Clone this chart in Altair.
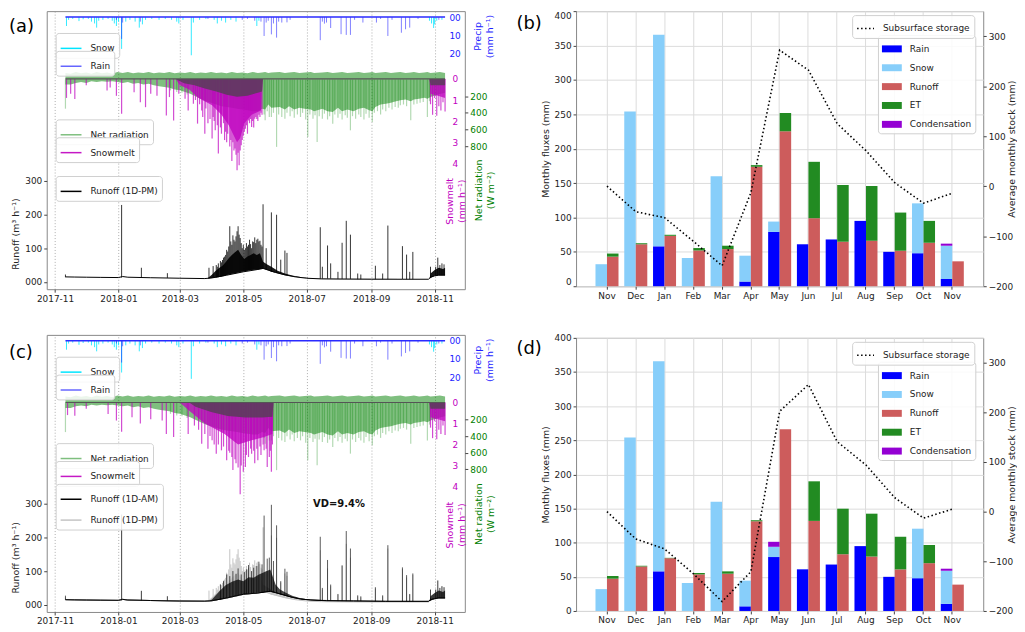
import altair as alt
import pandas as pd

FONT = "DejaVu Sans"
MAG = "#bf00bf"

# ------------------------------------------------------------------ monthly balance (b), (d)
MONTH_KEYS = ["Nov17", "Dec17", "Jan18", "Feb18", "Mar18", "Apr18", "May18",
              "Jun18", "Jul18", "Aug18", "Sep18", "Oct18", "Nov18"]
RAIN_M = [0, 0, 58, 0, 0, 6.8, 79, 61, 68, 95, 50, 48, 10.5]
SNOW_M = [32, 254, 307.7, 41, 160, 37.6, 15, 0, 0, 0, 0, 72.5, 48.4]
COND_B = [0, 0, 0, 0, 0, 0, 0, 0, 0, 0, 0, 0, 3]
RUNOFF_B = [43, 61, 73.3, 52, 54, 173.7, 225.3, 98.9, 64.7, 66.1, 51.6, 63.2, 36.2]
ET_B = [4.5, 1.5, 1.5, 3.5, 4.9, 2.4, 26.6, 82, 82.5, 79.6, 55.5, 31.8, 0]
STORAGE_B = [0, -51, -63, -110, -159, -13, 272, 232, 125, 71, 7, -34, -14]
COND_D = [0, 0, 0, 0, 0, 0, 7.3, 0, 0, 0, 0, 0, 3]
RUNOFF_D = [47.3, 65.2, 77.3, 53.6, 54.6, 131.4, 266.2, 131.9, 83.1, 79.7, 60.9, 70, 38.6]
ET_D = [3.9, 1.0, 0.5, 2.0, 3.4, 1.5, 0, 58, 66.7, 62.8, 47.8, 26.6, 0]
STORAGE_D = [0, -55, -75, -125, -181, -121, 202, 256, 141, 94, 28, -13, 5]
FLUX_NAMES = ["Rain", "Snow", "Runoff", "ET", "Condensation"]
FLUX_COLORS = ["#0000ff", "#87cefa", "#cd5c5c", "#228b22", "#9400d3"]

# ------------------------------------------------------------------ time series (a), (c)
SERIES_SPAN = ("2017-11-11", "2018-11-11")
SNOW = [("2017-11-12", 4.9), ("2017-11-14", 1.5), ("2017-11-18", 1.0), ("2017-11-24", 2.2),
        ("2017-11-28", 1.2), ("2017-12-03", 1.0), ("2017-12-06", 2.5), ("2017-12-09", 3.5),
        ("2017-12-11", 5.8), ("2017-12-13", 2.0), ("2017-12-17", 1.5), ("2017-12-22", 1.0),
        ("2017-12-26", 2.0), ("2017-12-28", 3.5), ("2017-12-30", 4.9), ("2018-01-01", 2.5),
        ("2018-01-04", 17.5), ("2018-01-08", 2.5), ("2018-01-12", 1.5), ("2018-01-17", 2.5),
        ("2018-01-21", 5.8), ("2018-01-24", 4.0), ("2018-01-27", 1.5), ("2018-02-02", 1.0),
        ("2018-02-09", 1.5), ("2018-02-15", 1.0), ("2018-02-21", 1.5), ("2018-02-26", 2.5),
        ("2018-02-28", 3.5), ("2018-03-04", 1.5), ("2018-03-12", 21.0), ("2018-03-14", 3.0),
        ("2018-03-20", 1.5), ("2018-03-26", 1.0), ("2018-04-03", 1.5), ("2018-04-06", 3.5),
        ("2018-04-10", 2.0), ("2018-04-14", 3.0), ("2018-04-19", 1.5), ("2018-04-24", 2.5),
        ("2018-05-14", 4.9), ("2018-05-16", 2.0), ("2018-10-27", 2.0), ("2018-10-29", 3.5),
        ("2018-10-31", 6.0), ("2018-11-01", 4.0), ("2018-11-03", 2.0), ("2018-11-08", 1.5)]
RAIN = [("2017-12-30", 1.5), ("2018-01-04", 12.0), ("2018-01-05", 3.0), ("2018-01-22", 2.5),
        ("2018-03-28", 1.0), ("2018-04-30", 1.5), ("2018-05-05", 1.0), ("2018-05-12", 2.0),
        ("2018-05-18", 2.5), ("2018-05-21", 10.4), ("2018-05-23", 3.0), ("2018-05-25", 2.0),
        ("2018-05-28", 9.5), ("2018-05-30", 3.5), ("2018-06-02", 11.3), ("2018-06-04", 2.5),
        ("2018-06-07", 3.0), ("2018-06-12", 2.9), ("2018-06-15", 1.5), ("2018-07-14", 12.7),
        ("2018-07-16", 2.5), ("2018-07-18", 3.6), ("2018-07-20", 3.0), ("2018-07-24", 6.0),
        ("2018-08-03", 9.4), ("2018-08-08", 9.8), ("2018-08-12", 9.8), ("2018-08-16", 1.5),
        ("2018-08-24", 3.0), ("2018-09-06", 3.0), ("2018-09-10", 1.0), ("2018-09-17", 10.4),
        ("2018-09-21", 1.5), ("2018-09-30", 8.6), ("2018-10-04", 6.7), ("2018-10-08", 5.8),
        ("2018-10-16", 1.0), ("2018-11-05", 1.5)]
# (date, night value, typical daytime maximum) in W m-2
NET_RAD_BAND = [
    ("2017-11-11", -80, 60), ("2017-11-16", -70, 60), ("2017-11-21", -90, 40), ("2017-11-26", -75, 30),
    ("2017-12-01", -85, 40), ("2017-12-06", -70, 20), ("2017-12-11", -90, 30), ("2017-12-16", -75, 20),
    ("2017-12-21", -85, 25), ("2017-12-26", -70, 20), ("2017-12-31", -90, 30), ("2018-01-05", -80, 40),
    ("2018-01-10", -90, 30), ("2018-01-15", -75, 50), ("2018-01-20", -85, 40), ("2018-01-25", -80, 60),
    ("2018-01-30", -90, 50), ("2018-02-04", -75, 70), ("2018-02-09", -85, 80), ("2018-02-14", -80, 90),
    ("2018-02-19", -90, 100), ("2018-02-24", -75, 120), ("2018-03-01", -85, 130), ("2018-03-06", -80, 150),
    ("2018-03-11", -90, 170), ("2018-03-16", -75, 200), ("2018-03-21", -85, 230), ("2018-03-26", -80, 260),
    ("2018-03-31", -90, 280), ("2018-04-05", -80, 300), ("2018-04-10", -85, 320), ("2018-04-15", -75, 330),
    ("2018-04-20", -90, 340), ("2018-04-25", -80, 350), ("2018-04-30", -85, 360), ("2018-05-05", -75, 370),
    ("2018-05-10", -90, 380), ("2018-05-15", -80, 380), ("2018-05-19", -85, 350), ("2018-05-22", -90, 360),
    ("2018-05-25", -80, 300), ("2018-05-28", -85, 340), ("2018-06-05", -90, 330), ("2018-06-10", -80, 360),
    ("2018-06-14", -85, 320), ("2018-06-19", -90, 360), ("2018-06-24", -80, 340), ("2018-06-29", -85, 350),
    ("2018-07-05", -90, 360), ("2018-07-08", -80, 380), ("2018-07-16", -85, 350), ("2018-07-21", -90, 380),
    ("2018-07-26", -80, 390), ("2018-07-31", -85, 340), ("2018-08-04", -90, 380), ("2018-08-09", -80, 360),
    ("2018-08-15", -85, 380), ("2018-08-20", -90, 350), ("2018-08-25", -80, 340), ("2018-08-30", -85, 370),
    ("2018-09-02", -90, 380), ("2018-09-05", -80, 330), ("2018-09-10", -85, 300), ("2018-09-15", -90, 290),
    ("2018-09-20", -80, 280), ("2018-09-24", -85, 265), ("2018-09-29", -90, 250), ("2018-10-04", -80, 240),
    ("2018-10-09", -85, 260), ("2018-10-12", -90, 240), ("2018-10-17", -80, 230), ("2018-10-22", -85, 220),
    ("2018-10-25", -90, 230), ("2018-10-28", -80, 210), ("2018-11-02", -85, 190), ("2018-11-06", -90, 175),
    ("2018-11-11", -80, 160)]
NET_RAD_PEAKS = [
    ("2017-11-11", 350), ("2018-02-20", 130), ("2018-02-26", 150), ("2018-03-03", 160), ("2018-03-08", 180),
    ("2018-05-21", 420), ("2018-05-22", 490), ("2018-05-24", 380), ("2018-05-26", 450), ("2018-05-28", 451),
    ("2018-05-30", 400), ("2018-06-02", 809), ("2018-06-04", 420), ("2018-06-07", 450), ("2018-06-10", 470),
    ("2018-06-12", 400), ("2018-06-15", 440), ("2018-06-17", 380), ("2018-06-19", 460), ("2018-06-22", 420),
    ("2018-06-25", 450), ("2018-06-27", 400), ("2018-06-30", 480), ("2018-07-02", 690), ("2018-07-04", 420),
    ("2018-07-07", 470), ("2018-07-09", 430), ("2018-07-11", 750), ("2018-07-13", 440), ("2018-07-16", 470),
    ("2018-07-18", 410), ("2018-07-21", 480), ("2018-07-23", 440), ("2018-07-26", 530), ("2018-07-28", 420),
    ("2018-07-31", 460), ("2018-08-02", 410), ("2018-08-04", 480), ("2018-08-07", 430), ("2018-08-09", 460),
    ("2018-08-12", 610), ("2018-08-14", 440), ("2018-08-17", 470), ("2018-08-20", 420), ("2018-08-22", 450),
    ("2018-08-25", 480), ("2018-08-27", 410), ("2018-08-30", 460), ("2018-09-02", 510), ("2018-09-04", 400),
    ("2018-09-07", 380), ("2018-09-10", 420), ("2018-09-12", 360), ("2018-09-15", 380), ("2018-09-18", 340),
    ("2018-09-21", 360), ("2018-09-24", 330), ("2018-09-27", 340), ("2018-09-29", 310), ("2018-10-02", 300),
    ("2018-10-05", 320), ("2018-10-09", 490), ("2018-10-12", 300), ("2018-10-15", 290), ("2018-10-18", 280),
    ("2018-10-21", 270), ("2018-10-25", 451), ("2018-10-27", 260)]

MELT_PEAKS_A = [("2017-11-12", 0.9), ("2017-11-16", 0.7), ("2017-11-20", 0.95), ("2017-12-01", 0.3),
                ("2017-12-21", 0.55), ("2017-12-24", 0.4), ("2017-12-30", 0.8), ("2018-01-04", 1.65),
                ("2018-01-16", 0.63), ("2018-01-22", 1.1), ("2018-01-27", 1.34), ("2018-02-01", 0.7),
                ("2018-02-07", 0.8), ("2018-02-16", 1.73), ("2018-02-19", 0.86), ("2018-02-23", 1.97),
                ("2018-02-28", 0.7), ("2018-03-06", 0.94), ("2018-03-09", 1.5), ("2018-03-14", 1.18),
                ("2018-03-16", 1.0), ("2018-03-18", 2.12), ("2018-03-20", 1.2), ("2018-03-22", 1.5),
                ("2018-03-23", 1.8), ("2018-03-25", 2.6), ("2018-03-26", 1.4), ("2018-03-28", 2.1),
                ("2018-03-30", 1.9), ("2018-04-01", 2.83), ("2018-04-02", 1.8), ("2018-04-03", 2.0),
                ("2018-04-04", 2.44), ("2018-04-06", 2.2), ("2018-04-07", 3.54), ("2018-04-09", 2.3),
                ("2018-04-10", 2.6), ("2018-04-12", 2.1), ("2018-04-13", 2.9), ("2018-04-14", 2.5),
                ("2018-04-15", 3.0), ("2018-04-16", 2.6), ("2018-04-18", 3.2), ("2018-04-19", 2.9),
                ("2018-04-20", 3.9), ("2018-04-21", 3.0), ("2018-04-22", 3.4), ("2018-04-23", 3.3),
                ("2018-04-24", 3.6), ("2018-04-25", 4.33), ("2018-04-26", 3.5), ("2018-04-27", 4.1),
                ("2018-04-28", 3.4), ("2018-04-29", 3.15), ("2018-04-30", 2.9), ("2018-05-01", 2.7),
                ("2018-05-02", 2.5), ("2018-05-03", 2.36), ("2018-05-04", 2.2), ("2018-05-05", 2.6),
                ("2018-05-06", 1.97), ("2018-05-07", 2.1), ("2018-05-08", 1.9), ("2018-05-09", 2.28),
                ("2018-05-10", 2.0), ("2018-05-11", 2.3), ("2018-05-12", 1.89), ("2018-05-13", 1.8),
                ("2018-05-14", 1.9), ("2018-05-15", 2.0), ("2018-05-16", 1.7), ("2018-05-17", 1.81),
                ("2018-05-18", 1.6), ("2018-05-19", 1.7),
                ("2018-10-28", 1.2), ("2018-10-30", 1.7), ("2018-11-01", 0.9), ("2018-11-03", 1.75),
                ("2018-11-05", 1.3), ("2018-11-07", 1.5), ("2018-11-09", 1.1), ("2018-11-11", 1.55)]
MELT_CORE_A = [("2018-02-25", 0.0), ("2018-03-01", 0.3), ("2018-03-10", 0.5), ("2018-03-19", 0.9),
               ("2018-04-01", 1.25), ("2018-04-10", 1.7), ("2018-04-17", 2.2), ("2018-04-21", 2.6),
               ("2018-04-25", 3.0), ("2018-04-28", 2.8), ("2018-05-02", 2.1), ("2018-05-09", 1.7),
               ("2018-05-18", 1.5), ("2018-05-19", 0.0), ("2018-10-27", 0.0), ("2018-10-28", 0.7),
               ("2018-11-04", 0.8), ("2018-11-11", 0.9)]
MELT_DENSE_A = [("2018-02-25", 0.0), ("2018-03-05", 0.2), ("2018-03-15", 0.3), ("2018-03-25", 0.45),
                ("2018-04-05", 0.6), ("2018-04-15", 0.75), ("2018-04-25", 0.85), ("2018-05-05", 0.8),
                ("2018-05-15", 0.65), ("2018-05-19", 0.6), ("2018-05-20", 0.0), ("2018-10-27", 0.0),
                ("2018-10-28", 0.3), ("2018-11-11", 0.3)]

MELT_PEAKS_C = [("2017-11-13", 0.6), ("2017-11-20", 0.63), ("2017-12-01", 0.3), ("2017-12-22", 0.55),
                ("2017-12-30", 0.86), ("2018-01-04", 1.4), ("2018-01-14", 0.7), ("2018-01-22", 1.0),
                ("2018-02-01", 0.8), ("2018-02-12", 0.86), ("2018-02-16", 1.5), ("2018-02-23", 1.65),
                ("2018-03-09", 1.5), ("2018-03-15", 1.1), ("2018-03-19", 1.3), ("2018-03-22", 1.97),
                ("2018-03-25", 1.5), ("2018-03-28", 2.2), ("2018-03-30", 1.6), ("2018-04-01", 1.8),
                ("2018-04-03", 2.0), ("2018-04-05", 2.44), ("2018-04-07", 2.0), ("2018-04-10", 2.28),
                ("2018-04-12", 2.1), ("2018-04-15", 2.75), ("2018-04-17", 2.3), ("2018-04-18", 2.4),
                ("2018-04-20", 2.6), ("2018-04-21", 3.22), ("2018-04-23", 2.7), ("2018-04-24", 2.9),
                ("2018-04-26", 3.1), ("2018-04-28", 4.37), ("2018-04-29", 3.0), ("2018-05-01", 3.3),
                ("2018-05-03", 3.07), ("2018-05-04", 2.5), ("2018-05-06", 2.6), ("2018-05-08", 2.2),
                ("2018-05-09", 2.44), ("2018-05-11", 2.3), ("2018-05-12", 2.9), ("2018-05-14", 2.2),
                ("2018-05-15", 2.75), ("2018-05-17", 2.1), ("2018-05-18", 2.5), ("2018-05-20", 2.0),
                ("2018-05-21", 2.28), ("2018-05-23", 2.2), ("2018-05-24", 3.07), ("2018-05-26", 2.6),
                ("2018-05-27", 2.3), ("2018-05-28", 3.3), ("2018-05-29", 2.0),
                ("2018-10-28", 1.2), ("2018-10-30", 1.7), ("2018-11-01", 0.9), ("2018-11-03", 1.75),
                ("2018-11-05", 1.3), ("2018-11-07", 1.5), ("2018-11-09", 1.1), ("2018-11-11", 1.55)]
MELT_CORE_C = [("2018-03-01", 0.0), ("2018-03-10", 0.4), ("2018-03-25", 1.0), ("2018-04-13", 1.5),
               ("2018-04-26", 2.0), ("2018-05-09", 1.8), ("2018-05-21", 1.65), ("2018-05-29", 1.5),
               ("2018-05-30", 0.0), ("2018-10-27", 0.0), ("2018-10-28", 0.7), ("2018-11-04", 0.8),
               ("2018-11-11", 0.9)]
MELT_DENSE_C = [("2018-03-10", 0.0), ("2018-03-16", 0.2), ("2018-03-31", 0.45), ("2018-04-16", 0.65),
                ("2018-05-03", 0.72), ("2018-05-19", 0.72), ("2018-05-29", 0.68), ("2018-05-30", 0.0),
                ("2018-10-27", 0.0), ("2018-10-28", 0.3), ("2018-11-11", 0.3)]

# runoff, m3 h-1 : baseline, (date, low, high) daily band, (date, base, peak) spikes
RUNOFF_PM_LINE = [("2017-11-11", 15), ("2017-11-20", 14.5), ("2017-12-01", 14), ("2017-12-15", 13.5),
                  ("2018-01-01", 13), ("2018-01-05", 16), ("2018-01-10", 14), ("2018-02-01", 12.5),
                  ("2018-03-01", 11), ("2018-03-25", 10), ("2018-04-01", 12), ("2018-04-15", 20),
                  ("2018-05-01", 30), ("2018-05-15", 37), ("2018-05-20", 40), ("2018-05-25", 35),
                  ("2018-06-01", 28), ("2018-06-10", 21), ("2018-06-20", 15), ("2018-07-01", 11),
                  ("2018-07-15", 9), ("2018-08-01", 8.5), ("2018-09-01", 8), ("2018-10-01", 8),
                  ("2018-10-26", 8), ("2018-10-28", 14), ("2018-11-01", 18), ("2018-11-05", 20),
                  ("2018-11-11", 20)]
RUNOFF_PM_BAND = [("2018-03-28", 10, 12), ("2018-04-01", 12, 22), ("2018-04-04", 13, 32), ("2018-04-08", 15, 42),
                  ("2018-04-11", 17, 48), ("2018-04-14", 20, 58), ("2018-04-17", 22, 70), ("2018-04-20", 24, 80),
                  ("2018-04-23", 26, 88), ("2018-04-26", 28, 95), ("2018-04-29", 30, 80), ("2018-05-02", 32, 68),
                  ("2018-05-05", 33, 75), ("2018-05-08", 35, 80), ("2018-05-11", 36, 85), ("2018-05-14", 37, 80),
                  ("2018-05-17", 38, 85), ("2018-05-20", 40, 60), ("2018-05-24", 35, 52), ("2018-05-28", 30, 45),
                  ("2018-06-03", 26, 33), ("2018-06-10", 20, 25), ("2018-06-17", 16, 19), ("2018-06-25", 13, 15),
                  ("2018-07-05", 10, 11), ("2018-10-27", 8, 8), ("2018-10-28", 12, 25), ("2018-11-01", 18, 35),
                  ("2018-11-05", 20, 42), ("2018-11-09", 20, 38), ("2018-11-11", 20, 42)]
RUNOFF_PM_SPIKES = [("2017-11-11", 14, 22), ("2018-01-04", 13, 228), ("2018-01-23", 12.5, 42),
                    ("2018-02-17", 12, 26), ("2018-03-29", 10, 42), ("2018-04-02", 12, 47),
                    ("2018-04-05", 13, 50), ("2018-04-06", 14, 45), ("2018-04-07", 14, 55),
                    ("2018-04-09", 15, 62), ("2018-04-10", 16, 58), ("2018-04-11", 17, 65),
                    ("2018-04-12", 17, 72), ("2018-04-13", 18, 75), ("2018-04-14", 20, 80),
                    ("2018-04-15", 20, 95), ("2018-04-16", 21, 90), ("2018-04-17", 22, 105),
                    ("2018-04-18", 22, 165), ("2018-04-19", 23, 120), ("2018-04-20", 24, 110),
                    ("2018-04-21", 24, 138), ("2018-04-22", 25, 125), ("2018-04-23", 25, 120),
                    ("2018-04-24", 26, 135), ("2018-04-25", 27, 150), ("2018-04-26", 28, 165),
                    ("2018-04-27", 28, 140), ("2018-04-28", 29, 130), ("2018-04-29", 30, 115),
                    ("2018-04-30", 30, 100), ("2018-05-01", 31, 110), ("2018-05-02", 32, 95),
                    ("2018-05-03", 32, 100), ("2018-05-04", 33, 115), ("2018-05-05", 33, 105),
                    ("2018-05-06", 34, 110), ("2018-05-07", 34, 125), ("2018-05-08", 35, 112),
                    ("2018-05-09", 35, 100), ("2018-05-10", 35, 120), ("2018-05-11", 36, 118),
                    ("2018-05-12", 36, 132), ("2018-05-13", 36, 115), ("2018-05-14", 37, 125),
                    ("2018-05-15", 37, 128), ("2018-05-16", 37, 120), ("2018-05-17", 38, 122),
                    ("2018-05-18", 38, 110), ("2018-05-19", 39, 105),
                    ("2018-05-20", 40, 230), ("2018-05-23", 37, 100),
                    ("2018-05-28", 30, 206), ("2018-06-02", 27, 199), ("2018-06-06", 24, 66),
                    ("2018-06-10", 21, 93), ("2018-06-12", 20, 86), ("2018-07-14", 10, 162),
                    ("2018-07-16", 10, 45), ("2018-07-21", 10, 108), ("2018-07-24", 10, 55),
                    ("2018-07-31", 9, 30), ("2018-08-04", 9, 116), ("2018-08-08", 9, 181),
                    ("2018-08-12", 9, 140), ("2018-08-19", 8, 25), ("2018-08-22", 8, 22),
                    ("2018-09-05", 8, 48), ("2018-09-12", 8, 25), ("2018-09-17", 8, 167),
                    ("2018-10-01", 8, 106), ("2018-10-05", 8, 81), ("2018-10-08", 8, 30),
                    ("2018-10-11", 8, 89), ("2018-10-28", 12, 45), ("2018-11-02", 18, 45),
                    ("2018-11-04", 20, 72), ("2018-11-06", 20, 50), ("2018-11-08", 20, 55),
                    ("2018-11-10", 20, 52)]
RUNOFF_AM_LINE = [("2017-11-11", 15), ("2017-11-20", 14.5), ("2017-12-01", 14), ("2017-12-15", 13.5),
                  ("2018-01-01", 13), ("2018-01-05", 16), ("2018-01-10", 14), ("2018-02-01", 12.5),
                  ("2018-03-01", 11), ("2018-03-25", 10.5), ("2018-04-01", 12), ("2018-04-15", 20),
                  ("2018-05-01", 31), ("2018-05-15", 35), ("2018-05-27", 40), ("2018-06-01", 36),
                  ("2018-06-10", 28), ("2018-06-17", 22), ("2018-06-25", 17), ("2018-07-05", 14),
                  ("2018-07-20", 12), ("2018-08-15", 11), ("2018-09-15", 10), ("2018-10-26", 10),
                  ("2018-10-28", 15), ("2018-11-01", 18), ("2018-11-05", 20), ("2018-11-11", 20)]
RUNOFF_AM_BAND = [("2018-03-30", 11, 12), ("2018-04-01", 12, 16), ("2018-04-08", 15, 40), ("2018-04-14", 20, 58),
                  ("2018-04-20", 24, 68), ("2018-04-26", 28, 75), ("2018-05-01", 31, 70), ("2018-05-06", 33, 82),
                  ("2018-05-11", 35, 80), ("2018-05-16", 36, 90), ("2018-05-22", 38, 98), ("2018-05-27", 40, 105),
                  ("2018-06-01", 36, 60), ("2018-06-05", 32, 46), ("2018-06-10", 28, 37), ("2018-06-17", 22, 27),
                  ("2018-06-25", 17, 19), ("2018-07-05", 14, 15), ("2018-10-27", 10, 10), ("2018-10-28", 12, 25),
                  ("2018-11-01", 18, 35), ("2018-11-05", 20, 42), ("2018-11-09", 20, 38), ("2018-11-11", 20, 42)]
RUNOFF_AM_SPIKES = [("2017-11-11", 15, 27), ("2018-01-04", 13, 268), ("2018-01-23", 12.5, 41),
                    ("2018-02-17", 12, 25), ("2018-04-09", 15, 60), ("2018-04-12", 18, 70),
                    ("2018-04-15", 20, 90), ("2018-04-18", 22, 85), ("2018-04-21", 24, 100),
                    ("2018-04-24", 26, 92), ("2018-04-26", 28, 108), ("2018-04-29", 30, 90),
                    ("2018-05-02", 31, 98), ("2018-05-04", 32, 105), ("2018-05-06", 33, 118),
                    ("2018-05-09", 34, 100), ("2018-05-11", 35, 110), ("2018-05-14", 35, 115),
                    ("2018-05-16", 36, 128), ("2018-05-19", 37, 120),
                    ("2018-05-21", 38, 265), ("2018-05-24", 39, 137), ("2018-05-26", 40, 140),
                    ("2018-05-28", 40, 297), ("2018-05-30", 38, 130),
                    ("2018-06-02", 35, 236), ("2018-06-06", 31, 70), ("2018-06-10", 28, 107),
                    ("2018-06-12", 26, 98), ("2018-07-14", 12, 202), ("2018-07-16", 12, 50),
                    ("2018-07-21", 12, 133), ("2018-07-24", 12, 60), ("2018-07-31", 11, 32),
                    ("2018-08-04", 11, 117), ("2018-08-08", 11, 219), ("2018-08-12", 11, 167),
                    ("2018-08-19", 11, 28), ("2018-08-22", 11, 25), ("2018-09-05", 10, 52),
                    ("2018-09-12", 10, 28), ("2018-09-17", 10, 177), ("2018-10-01", 10, 111),
                    ("2018-10-05", 10, 88), ("2018-10-08", 10, 32), ("2018-10-11", 10, 93),
                    ("2018-10-28", 12, 45), ("2018-11-02", 18, 45), ("2018-11-04", 20, 72),
                    ("2018-11-06", 20, 50), ("2018-11-08", 20, 55), ("2018-11-10", 20, 52)]
VD_NOTE = [("2018-08-01", 300, "VD=9.4%")]


def frame(rows, cols):
    return pd.DataFrame(rows, columns=cols)


# ------------------------------------------------------------------ shared encodings
def DT(y, m, d):
    return alt.DateTime(year=y, month=m, date=d, utc=True)


X_SCALE = alt.Scale(type="utc", domain=[DT(2017, 10, 24), DT(2018, 11, 30)])
X_AXIS = alt.Axis(title=None, values=[DT(2017, 11, 1), DT(2018, 1, 1), DT(2018, 3, 1), DT(2018, 5, 1),
                                      DT(2018, 7, 1), DT(2018, 9, 1), DT(2018, 11, 1)],
                  labelExpr="utcFormat(datum.value, '%Y-%m')", grid=True, gridDash=[1, 2],
                  gridColor="#999999", gridWidth=0.8, tickSize=3, labelPadding=2, domain=False,
                  labelFlush=False)


def xt(field="date"):
    return alt.X(f"{field}:T", scale=X_SCALE, axis=X_AXIS)


RUNOFF_SCALE = alt.Scale(domain=[-21.5, 802], nice=False, zero=False)
PRECIP_SCALE = alt.Scale(domain=[-3.28, 149.7], reverse=True, nice=False, zero=False)
MELT_SCALE = alt.Scale(domain=[-3.22, 9.98], reverse=True, nice=False, zero=False)
RAD_SCALE = alt.Scale(domain=[-822, 2519], reverse=True, nice=False, zero=False)

RUNOFF_AXIS = alt.Axis(orient="left", values=[0, 100, 200, 300], format="03d", tickSize=3,
                       labelPadding=2, grid=False, domain=False, title="Runoff (m³ h⁻¹)",
                       titleY=224, titlePadding=4)
PRECIP_AXIS = alt.Axis(orient="right", offset=-16, values=[0, 10, 20], format="02d",
                       labelColor="#2222ff", ticks=False, tickSize=0, labelPadding=0, domain=False,
                       grid=False, title=["Precip", "(mm h⁻¹)"], titleColor="#2222ff", titleAngle=270,
                       titleAlign="center", titleBaseline="middle", titleX=29, titleY=25)
MELT_AXIS = alt.Axis(orient="right", offset=-13, values=[0, 1, 2, 3, 4], labelColor=MAG,
                     ticks=False, tickSize=0, labelPadding=0, domain=False, grid=False,
                     title=["Snowmelt", "(mm h⁻¹)"], titleColor=MAG, titleAngle=270,
                     titleAlign="center", titleBaseline="middle", titleX=-2, titleY=191)
RAD_AXIS = alt.Axis(orient="right", values=[200, 400, 600, 800], labelColor="green", tickSize=3,
                    labelPadding=2, domain=False, grid=False, title=["Net radiation", "(W m⁻²)"],
                    titleColor="green", titleAngle=270, titleAlign="center", titleBaseline="middle",
                    titleX=14, titleY=180)

LEG_BOX = dict(orient="none", title=None, labelFont=FONT, labelFontSize=9, labelColor="#222222",
               padding=4, cornerRadius=3, strokeColor="#d0d0d0", fillColor="rgba(255,255,255,0.85)",
               labelOffset=8, rowPadding=4)


def line_legend(x, y, opacity=1.0):
    return alt.Legend(legendX=x, legendY=y, symbolType="stroke", symbolSize=441,
                      symbolStrokeWidth=1.5, symbolOpacity=opacity, **LEG_BOX)


def one_color(name, color, x, y, opacity=1.0):
    return alt.Color("name:N", scale=alt.Scale(domain=[name], range=[color]),
                     legend=line_legend(x, y, opacity))


def panel_label(text, dx, off):
    return alt.Title(text, anchor="start", frame="group", orient="top", fontSize=18,
                     fontWeight="normal", font=FONT, dx=dx, offset=off)


def time_panel(tag, melt_peaks, melt_core, melt_dense, two_models, height, label_off):
    span = frame([SERIES_SPAN + (0.0,)], ["start", "end", "v"])
    L = []
    # net radiation
    L.append(alt.Chart(frame(NET_RAD_BAND, ["date", "night", "day"])).mark_area(
        color="green", opacity=0.5).encode(
        x=xt(), y=alt.Y("night:Q", scale=RAD_SCALE, axis=RAD_AXIS), y2="day:Q"))
    L.append(alt.Chart(frame(NET_RAD_PEAKS, ["date", "w"]).assign(base=0.0, name="Net radiation"))
             .mark_rule(strokeWidth=1.2, opacity=0.3).encode(
        x=xt(), y=alt.Y("w:Q", scale=RAD_SCALE, axis=None), y2="base:Q",
        color=one_color("Net radiation", "green", 9, 109, 0.5)))
    # snowmelt
    L.append(alt.Chart(frame(melt_core, ["date", "mm"]).assign(base=0.0)).mark_area(
        color=MAG, opacity=0.75).encode(
        x=xt(), y=alt.Y("mm:Q", scale=MELT_SCALE, axis=MELT_AXIS), y2="base:Q"))
    L.append(alt.Chart(frame(melt_peaks, ["date", "mm"]).assign(base=0.0, name="Snowmelt"))
             .mark_rule(strokeWidth=1.2, opacity=0.7).encode(
        x=xt(), y=alt.Y("mm:Q", scale=MELT_SCALE, axis=None), y2="base:Q",
        color=one_color("Snowmelt", MAG, 9, 127, 0.9)))
    L.append(alt.Chart(frame(melt_dense, ["date", "mm"]).assign(base=0.0)).mark_area(
        color="#5b3b5b", opacity=0.88).encode(
        x=xt(), y=alt.Y("mm:Q", scale=MELT_SCALE, axis=None), y2="base:Q"))
    L.append(alt.Chart(span).mark_rule(color="#555555", strokeWidth=1.2).encode(
        x=xt("start"), x2="end:T", y=alt.Y("v:Q", scale=MELT_SCALE, axis=None)))
    # precipitation
    L.append(alt.Chart(frame(SNOW, ["date", "mm"]).assign(base=0.0, name="Snow"))
             .mark_rule(strokeWidth=1, opacity=0.8).encode(
        x=xt(), y=alt.Y("mm:Q", scale=PRECIP_SCALE, axis=PRECIP_AXIS), y2="base:Q",
        color=one_color("Snow", "#00e5ff", 9, 22)))
    L.append(alt.Chart(frame(RAIN, ["date", "mm"]).assign(base=0.0, name="Rain"))
             .mark_rule(strokeWidth=1, opacity=0.5).encode(
        x=xt(), y=alt.Y("mm:Q", scale=PRECIP_SCALE, axis=None), y2="base:Q",
        color=one_color("Rain", "#0000ff", 9, 40, 0.6)))
    L.append(alt.Chart(span).mark_rule(color="#2a2aff", strokeWidth=1.5).encode(
        x=xt("start"), x2="end:T", y=alt.Y("v:Q", scale=PRECIP_SCALE, axis=None)))
    # runoff
    if two_models:
        L.append(alt.Chart(frame(RUNOFF_PM_BAND, ["date", "lo", "hi"])).mark_area(
            color="#c4c4c4", opacity=0.9).encode(
            x=xt(), y=alt.Y("lo:Q", scale=RUNOFF_SCALE, axis=RUNOFF_AXIS), y2="hi:Q"))
        L.append(alt.Chart(frame(RUNOFF_PM_SPIKES, ["date", "lo", "hi"])).mark_rule(
            color="#c4c4c4", strokeWidth=1).encode(
            x=xt(), y=alt.Y("hi:Q", scale=RUNOFF_SCALE, axis=None), y2="lo:Q"))
        both = pd.concat([frame(RUNOFF_AM_LINE, ["date", "q"]).assign(name="Runoff (1D-AM)"),
                          frame(RUNOFF_PM_LINE, ["date", "q"]).assign(name="Runoff (1D-PM)")])
        L.append(alt.Chart(both).mark_line(strokeWidth=1).encode(
            x=xt(), y=alt.Y("q:Q", scale=RUNOFF_SCALE, axis=None),
            color=alt.Color("name:N", scale=alt.Scale(domain=["Runoff (1D-AM)", "Runoff (1D-PM)"],
                                                      range=["black", "#c4c4c4"]),
                            legend=line_legend(9, 150))))
        L.append(alt.Chart(frame(RUNOFF_AM_BAND, ["date", "lo", "hi"])).mark_area(
            color="black", opacity=0.72).encode(
            x=xt(), y=alt.Y("lo:Q", scale=RUNOFF_SCALE, axis=None), y2="hi:Q"))
        L.append(alt.Chart(frame(RUNOFF_AM_SPIKES, ["date", "lo", "hi"])).mark_rule(
            color="black", strokeWidth=1, opacity=0.65).encode(
            x=xt(), y=alt.Y("hi:Q", scale=RUNOFF_SCALE, axis=None), y2="lo:Q"))
        L.append(alt.Chart(frame(RUNOFF_AM_LINE, ["date", "q"])).mark_line(
            color="black", strokeWidth=1).encode(
            x=xt(), y=alt.Y("q:Q", scale=RUNOFF_SCALE, axis=None)))
        L.append(alt.Chart(frame(VD_NOTE, ["date", "q", "txt"])).mark_text(
            fontWeight="bold", fontSize=10, font=FONT, color="#111111").encode(
            x=xt(), y=alt.Y("q:Q", scale=RUNOFF_SCALE, axis=None), text="txt:N"))
    else:
        L.append(alt.Chart(frame(RUNOFF_PM_BAND, ["date", "lo", "hi"])).mark_area(
            color="black", opacity=0.9).encode(
            x=xt(), y=alt.Y("lo:Q", scale=RUNOFF_SCALE, axis=RUNOFF_AXIS), y2="hi:Q"))
        L.append(alt.Chart(frame(RUNOFF_PM_SPIKES, ["date", "lo", "hi"])).mark_rule(
            color="black", strokeWidth=1, opacity=0.8).encode(
            x=xt(), y=alt.Y("hi:Q", scale=RUNOFF_SCALE, axis=None), y2="lo:Q"))
        L.append(alt.Chart(frame(RUNOFF_PM_LINE, ["date", "q"]).assign(name="Runoff (1D-PM)"))
                 .mark_line(strokeWidth=1).encode(
            x=xt(), y=alt.Y("q:Q", scale=RUNOFF_SCALE, axis=None),
            color=one_color("Runoff (1D-PM)", "black", 9, 166)))
    return alt.layer(*L).resolve_scale(y="independent", color="independent").properties(
        width=421, height=height, title=panel_label(tag, -38, label_off))


def bar_panel(tag, cond, runoff, et, storage, height, label_off, flush):
    rows = []
    for i, k in enumerate(MONTH_KEYS):
        base = 0.0
        for comp, v in (("Rain", RAIN_M[i]), ("Snow", SNOW_M[i]), ("Condensation", cond[i])):
            if v > 0:
                rows.append((k, "in", comp, base, base + v))
            base += v
        base = 0.0
        for comp, v in (("Runoff", runoff[i]), ("ET", et[i])):
            if v > 0:
                rows.append((k, "out", comp, base, base + v))
            base += v
    bars_df = frame(rows, ["month", "side", "comp", "lo", "hi"])
    store_df = pd.DataFrame({"month": MONTH_KEYS, "s": storage, "name": "Subsurface storage"})
    x = alt.X("month:N", sort=MONTH_KEYS,
              scale=alt.Scale(paddingInner=0.2, paddingOuter=0.675),
              axis=alt.Axis(title=None, labelExpr="substring(datum.label, 0, 3)", labelAngle=0,
                            grid=True, gridColor="#dcdcdc", tickSize=3, labelPadding=2,
                            domain=False, bandPosition=0.5))
    bars = alt.Chart(bars_df).mark_bar().encode(
        x=x,
        xOffset=alt.XOffset("side:N", sort=["in", "out"],
                            scale=alt.Scale(paddingInner=0, paddingOuter=0)),
        y=alt.Y("lo:Q", scale=alt.Scale(domain=[0, 400], nice=False),
                axis=alt.Axis(orient="left", values=list(range(0, 401, 50)), grid=True,
                              gridColor="#dcdcdc", tickSize=3, labelPadding=2, domain=False,
                              labelFlush=flush, title="Monthly fluxes (mm)", titlePadding=4)),
        y2="hi:Q",
        color=alt.Color("comp:N", scale=alt.Scale(domain=FLUX_NAMES, range=FLUX_COLORS),
                        legend=alt.Legend(legendX=304, legendY=24,
                                          symbolType="M-1,-0.35H1V0.35H-1Z", symbolSize=400,
                                          symbolStrokeWidth=0, **LEG_BOX)))
    line = alt.Chart(store_df).mark_line(strokeDash=[1.5, 2.5], strokeWidth=1.6).encode(
        x=x,
        y=alt.Y("s:Q", scale=alt.Scale(domain=[-200, 350], nice=False, zero=False),
                axis=alt.Axis(orient="right", values=[-200, -100, 0, 100, 200, 300], grid=False,
                              tickSize=3, labelPadding=2, domain=False,
                              title="Average monthly stock (mm)", titleAngle=270, titlePadding=4)),
        color=alt.Color("name:N", scale=alt.Scale(domain=["Subsurface storage"], range=["black"]),
                        legend=alt.Legend(legendX=278, legendY=4, symbolType="stroke",
                                          symbolSize=289, symbolStrokeWidth=1.6,
                                          symbolDash=[1.5, 2.5], **LEG_BOX)))
    return alt.layer(bars, line).resolve_scale(y="independent", color="independent").properties(
        width=410, height=height, title=panel_label(tag, -60, label_off))


panel_a = time_panel("(a)", MELT_PEAKS_A, MELT_CORE_A, MELT_DENSE_A, False, 280, -25)
panel_c = time_panel("(c)", MELT_PEAKS_C, MELT_CORE_C, MELT_DENSE_C, True, 279, -27)
panel_b = bar_panel("(b)", COND_B, RUNOFF_B, ET_B, STORAGE_B, 277, -22, True)
panel_d = bar_panel("(d)", COND_D, RUNOFF_D, ET_D, STORAGE_D, 275, -24, False)

chart = alt.hconcat(
    alt.vconcat(panel_a, panel_c, spacing=30),
    alt.vconcat(panel_b, panel_d, spacing=32),
    spacing=20,
).properties(
    padding={"left": 0, "top": 0, "right": 0, "bottom": 0}
).configure(font=FONT).configure_view(
    stroke="#888888", strokeWidth=1
).configure_axis(
    labelFont=FONT, titleFont=FONT, labelFontSize=9, titleFontSize=9.5, titleFontWeight="normal",
    labelColor="#222222", titleColor="#222222", tickColor="#444444"
)

chart.save("out.html", embed_options={"renderer": "svg", "actions": False})
